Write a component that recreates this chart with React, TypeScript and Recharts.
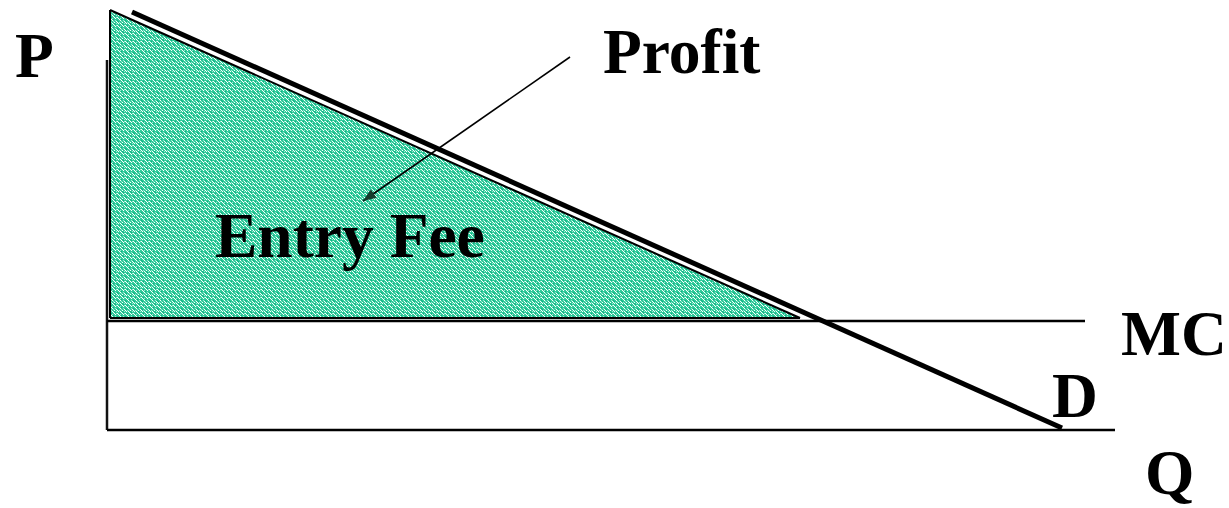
import React from "react";
import { ComposedChart, XAxis, YAxis, Line, Area } from "recharts";

// Economic units: Q (quantity) on x, P (price) on y
const demandQ = [2.5, 95.5];
const demandP = [41.8, 0.2];
const mcQ = [0, 97.8];
const mcLevel = 10.9;
const qAxisEnd = 100.8;
const pAxisTop = 37;
const feeQ = [0.3, 69.3];
const feeP = [42, 11.2];
const arrowQ = [46.3, 25.6];
const arrowP = [37.3, 22.9];
const labels = ["P", "Profit", "Entry Fee", "MC", "D", "Q"];

const demandData = demandQ.map((q, i) => ({ q, p: demandP[i] }));
const mcData = mcQ.map((q) => ({ q, p: mcLevel }));
const qAxisData = [{ q: 0, p: 0 }, { q: qAxisEnd, p: 0 }];
const pAxisData = [{ q: 0, p: 0 }, { q: 0, p: pAxisTop }];
const feeData = feeQ.map((q, i) => ({ q, p: feeP[i] }));
const feeLeft = [{ q: feeQ[0], p: feeP[0] }, { q: feeQ[0], p: feeP[1] }];
const feeBottom = [{ q: feeQ[0], p: feeP[1] }, { q: feeQ[1], p: feeP[1] }];
const arrowData = arrowQ.map((q, i) => ({ q, p: arrowP[i] }));

const whites = [[1,0],[5,1],[3,2],[7,3],[0,4],[4,5],[2,6],[6,7],[6,2],[2,1],[5,6],[0,7]];
const darks = [[3,0],[7,1],[1,3],[5,4],[2,7],[6,5]];
const lights = [[4,1],[0,2],[3,4],[7,6],[1,5],[4,7]];

const ArrowHead = (props: any) => {
  const { cx, cy, index } = props;
  if (index !== 1 || cx == null) return <g key={"ah" + index} />;
  const dx = (arrowQ[1] - arrowQ[0]);
  const dy = -(arrowP[1] - arrowP[0]);
  const ang = (Math.atan2(dy, dx) * 180) / Math.PI;
  return (
    <g key={"ah" + index} transform={`translate(${cx},${cy}) rotate(${ang})`}>
      <polygon points="0,0 -13,-5 -13,5" fill="#163a2c" />
    </g>
  );
};

const font = { fontFamily: "'Liberation Serif', 'Times New Roman', serif", fontWeight: 700, fontSize: 63.5 };

export default function App() {
  return (
    <div style={{ position: "absolute", left: 0, top: 0, width: 1229, height: 508, background: "#fff" }}>
      <svg width={0} height={0} style={{ position: "absolute" }}>
        <defs>
          <pattern id="speckle" patternUnits="userSpaceOnUse" width={8} height={8}>
            <rect x={0} y={0} width={8} height={8} fill="#30cb9c" />
            {lights.map(([x, y], i) => (
              <rect key={"l" + i} x={x} y={y} width={1} height={1} fill="#9fe6cf" shapeRendering="crispEdges" />
            ))}
            {whites.map(([x, y], i) => (
              <rect key={"w" + i} x={x} y={y} width={1} height={1} fill="#ffffff" shapeRendering="crispEdges" />
            ))}
            {darks.map(([x, y], i) => (
              <rect key={"d" + i} x={x} y={y} width={1} height={1} fill="#10b07f" shapeRendering="crispEdges" />
            ))}
          </pattern>
        </defs>
      </svg>
      <ComposedChart width={1229} height={508} margin={{ top: 10, right: 112, bottom: 78, left: 107 }}>
        <XAxis type="number" dataKey="q" domain={[0, 101]} hide />
        <YAxis type="number" dataKey="p" domain={[0, 42]} hide />
        <Area data={feeData} dataKey="p" type="linear" baseValue={feeP[1]} fill="url(#speckle)" fillOpacity={1} stroke="#000" strokeWidth={2} dot={false} activeDot={false} isAnimationActive={false} />
        <Line data={feeLeft} dataKey="p" type="linear" stroke="#000" strokeWidth={2} dot={false} activeDot={false} isAnimationActive={false} />
        <Line data={feeBottom} dataKey="p" type="linear" stroke="#000" strokeWidth={2} dot={false} activeDot={false} isAnimationActive={false} />
        <Line data={pAxisData} dataKey="p" type="linear" stroke="#111" strokeWidth={2.5} dot={false} activeDot={false} isAnimationActive={false} />
        <Line data={qAxisData} dataKey="p" type="linear" stroke="#000" strokeWidth={2.5} dot={false} activeDot={false} isAnimationActive={false} />
        <Line data={mcData} dataKey="p" type="linear" stroke="#000" strokeWidth={2.5} dot={false} activeDot={false} isAnimationActive={false} />
        <Line data={demandData} dataKey="p" type="linear" stroke="#000" strokeWidth={5} dot={false} activeDot={false} isAnimationActive={false} />
        <Line data={arrowData} dataKey="p" type="linear" stroke="#000" strokeWidth={1.6} dot={ArrowHead} activeDot={false} isAnimationActive={false} />
      </ComposedChart>
      <svg width={1229} height={508} style={{ position: "absolute", left: 0, top: 0, pointerEvents: "none" }}>
        <text x={15} y={77} {...font}>{labels[0]}</text>
        <text x={603} y={73} {...font}>{labels[1]}</text>
        <text x={215} y={257} {...font}>{labels[2]}</text>
        <text x={1121} y={355} {...font}>{labels[3]}</text>
        <text x={1052} y={417} {...font}>{labels[4]}</text>
        <text x={1145} y={494} {...font}>{labels[5]}</text>
      </svg>
    </div>
  );
}
